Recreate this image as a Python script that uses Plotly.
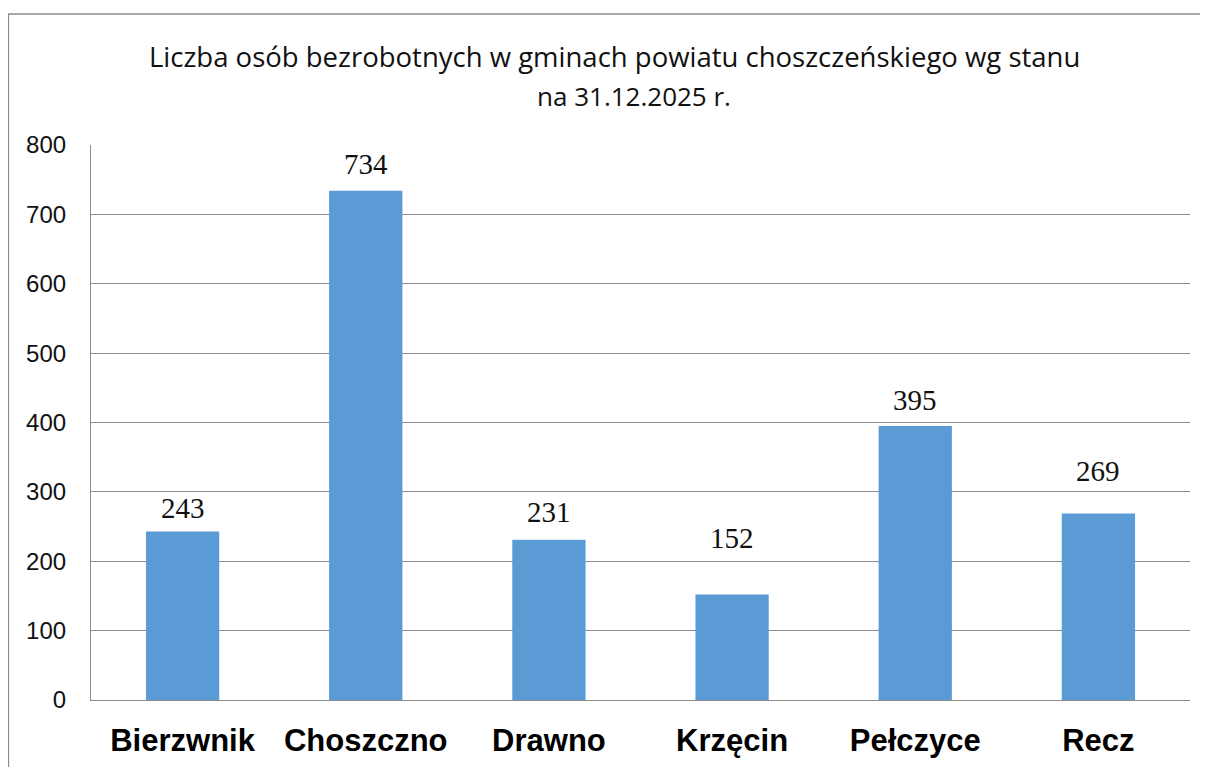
import plotly.graph_objects as go

# Data
gminy = ["Bierzwnik", "Choszczno", "Drawno", "Krzęcin", "Pełczyce", "Recz"]
bezrobotni = [243, 734, 231, 152, 395, 269]
y_ticks = [0, 100, 200, 300, 400, 500, 600, 700, 800]
title_lines = ["Liczba osób bezrobotnych w gminach powiatu choszczeńskiego wg stanu", "na 31.12.2025 r."]

# Style: vertical offset (px) of each data label above its bar top (manual placement as in source)
label_shift = [23, 27, 28, 57, 26, 42]

# page body has an 8px margin, so the figure is laid out 8px smaller
OFF = 8
W, H = 1208 - OFF, 767 - OFF
ML, MR, MT, MB = 91 - OFF, 18, 145 - OFF, 67
pw, ph = W - ML - MR, H - MT - MB
GRID = "#8c8c8c"


def px(xpage):
    return (xpage - OFF - ML) / pw


def py(ypage):
    return (H - MB - (ypage - OFF)) / ph


fig = go.Figure()
fig.add_trace(go.Bar(
    x=gminy, y=bezrobotni,
    marker=dict(color="#5B9BD5", line=dict(width=0)),
    hoverinfo="x+y",
))

for g, v, s in zip(gminy, bezrobotni, label_shift):
    fig.add_annotation(
        x=g, y=v, text=str(v), showarrow=False,
        xanchor="center", yanchor="middle", yshift=s,
        font=dict(family="Liberation Serif, Times New Roman, serif", size=29, color="#111111"),
    )

# Title (two lines)
title_font = dict(family="Open Sans, sans-serif", size=27.5, color="#111111")
fig.add_annotation(
    xref="paper", yref="paper", x=px(614), y=py(56),
    text=title_lines[0], showarrow=False, xanchor="center", yanchor="middle",
    font=title_font,
)
fig.add_annotation(
    xref="paper", yref="paper", x=px(634), y=py(96),
    text=title_lines[1], showarrow=False, xanchor="center", yanchor="middle",
    font=dict(family="Open Sans, sans-serif", size=26, color="#111111"),
)

# Outer chart frame
fig.add_shape(
    type="rect", xref="paper", yref="paper",
    x0=px(8.5), x1=px(1240),
    y0=py(800), y1=py(14),
    line=dict(color=GRID, width=1.3), fillcolor="rgba(0,0,0,0)", layer="below",
)

fig.update_layout(
    width=W, height=H,
    margin=dict(l=ML, r=MR, t=MT, b=MB, autoexpand=False),
    paper_bgcolor="white", plot_bgcolor="white",
    bargap=0.6, showlegend=False,
)
fig.update_yaxes(
    range=[0, 800], tickvals=y_ticks, ticktext=[str(t) for t in y_ticks],
    showgrid=True, gridcolor=GRID, gridwidth=1.2,
    showline=True, linecolor=GRID, linewidth=1.2, zeroline=False,
    ticks="", ticklabelstandoff=19,
    tickfont=dict(family="Liberation Sans, Arial, sans-serif", size=24, color="#111111"),
    fixedrange=True,
)
fig.update_xaxes(
    showline=True, linecolor=GRID, linewidth=1.2, showgrid=False,
    ticks="", ticklabelstandoff=13,
    tickfont=dict(family="Liberation Sans, Arial, sans-serif", size=31, color="#000000", weight="bold"),
    fixedrange=True,
)

fig.write_html("out.html")
